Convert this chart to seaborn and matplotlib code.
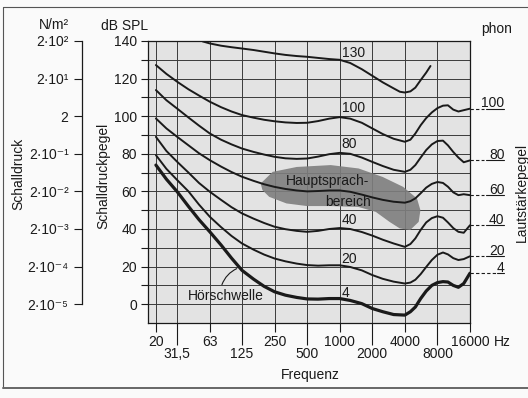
import matplotlib
matplotlib.use("Agg")
import matplotlib.pyplot as plt
import matplotlib.transforms as mtransforms
from matplotlib.lines import Line2D
import seaborn as sns

# Kurven gleicher Lautstaerke (Hz / dB SPL)
freq = [20, 25, 31.5, 40, 50, 63, 80, 100, 125, 160, 200, 250, 315, 400, 500, 630, 800,
        1000, 1250, 1600, 2000, 2500, 3150, 4000, 4500, 5000, 5600, 6300, 7100, 8000,
        9000, 10000, 11200, 12500, 14000, 16000]
phon_100 = [127.2, 122.5, 118.3, 114.3, 111, 107.7, 104.8, 102.5, 100.6, 99.2, 98.1, 97.3, 96.7,
            96.4, 96.5, 97.4, 98.7, 99.5, 98.7, 96.5, 93.5, 90.5, 88, 86.4, 87.5, 90.8, 95.2,
            99, 102, 104.3, 105.6, 105.8, 103.5, 102.5, 103.2, 104]
phon_80 = [113.9, 108.5, 104, 99.3, 95, 90.8, 87.5, 85, 82.8, 81, 79.6, 78.4, 77.6, 77.3, 77.5,
           78.5, 79.8, 80.5, 80, 78, 75.7, 73.5, 71.5, 70.4, 71.5, 74, 78, 82, 85, 86.8, 87,
           84.5, 81, 78, 75.5, 76.5]
phon_60 = [98.8, 93.5, 89, 84.5, 80.3, 76.6, 73.2, 70.3, 67.8, 65.6, 63.8, 62.4, 61.3, 60.5, 60,
           60.2, 60.5, 60.5, 59.8, 58.3, 56.8, 55.5, 54.5, 54, 54.8, 56.3, 59, 62, 64, 65, 64.5,
           62.5, 59.5, 58, 58.5, 58]
phon_40 = [89, 81.5, 75.7, 70, 64.5, 59.8, 55.5, 51.6, 48.3, 45.5, 43.2, 41.2, 39.9, 39, 38.5,
           39, 40, 40.5, 40, 38.4, 36.5, 34.3, 32.3, 30.5, 32, 35, 39.5, 43.5, 45.8, 46.8, 46,
           43.5, 40.5, 38.5, 38, 42]
phon_20 = [79.3, 72, 66, 60, 53, 46.5, 41, 36.3, 32.3, 29, 26.4, 24.3, 22.8, 21.6, 20.8, 20.5,
           20.7, 20.7, 19.8, 18, 15.5, 13.5, 12, 11, 11.5, 13, 16, 19.8, 23.5, 26.3, 27.5, 26.5,
           24.5, 23.5, 24, 25.5]
phon_4 = [74, 66.5, 59.8, 52, 45, 38.5, 31.5, 24.5, 18, 13.3, 9.5, 6.6, 4.8, 3.6, 2.8, 2.7, 3,
          3, 2, 0.3, -2.3, -4, -5.5, -5.8, -4, -1.5, 3, 7, 10, 11.5, 12, 11.8, 10, 9, 11, 16.5]

freq_130 = [54, 63, 80, 100, 125, 160, 200, 250, 315, 400, 500, 630, 800, 1000, 1250, 1600,
            2000, 2500, 3150, 3600, 4000, 4500, 5000, 5600, 6300, 6900]
phon_130 = [139.8, 138.7, 137.5, 136.7, 136, 135.2, 134.3, 133.4, 132.6, 132, 131.6, 131, 130.4,
            130, 128.3, 125, 121.5, 118, 114.8, 113, 112.6, 113.2, 115.2, 119.2, 123.2, 126.7]

# Hauptsprachbereich (Umriss)
blob_freq = [186, 240, 401, 826, 1494, 2490, 3861, 5182, 5570, 5367, 4470, 3592, 2885, 2155,
             1494, 826, 499, 322, 223, 193]
blob_level = [64.2, 70.4, 73.0, 74.0, 72.2, 67.7, 62.4, 56.2, 50.0, 43.8, 39.4, 40.3, 43.8, 49.1,
              51.7, 52.2, 52.2, 53.6, 57.1, 60.7]

upper_ticks = [20, 63, 250, 1000, 4000, 16000]
upper_labels = ['20', '63', '250', '1000', '4000', '16000']
lower_ticks = [31.5, 125, 500, 2000, 8000]
lower_labels = ['31,5', '125', '500', '2000', '8000']

spl_ticks = [140, 120, 100, 80, 60, 40, 20, 0]
pressure_labels = ['2·10²', '2·10¹', '2', '2·10⁻¹', '2·10⁻²', '2·10⁻³', '2·10⁻⁴', '2·10⁻⁵']

curve_labels = ['130', '100', '80', '40', '20', '4']
curve_label_levels = [133.7, 104.1, 85.1, 44.7, 24.3, 6.0]

right_labels = ['100', '80', '60', '40', '20', '4']
right_levels = [104, 76.5, 58, 42, 25.5, 16.5]

W, H = 528, 398
ink = '#1a1a1a'

sns.set_theme(style="ticks")
plt.rcParams['font.family'] = ['Liberation Sans', 'DejaVu Sans']
plt.rcParams['font.size'] = 10
plt.rcParams['text.color'] = ink

fig = plt.figure(figsize=(W / 100, H / 100), dpi=100)
fig.patch.set_facecolor('#fafafa')
ax = fig.add_axes([148 / W, 1 - 323 / H, 322 / W, 282 / H])
ax.set_facecolor('#e3e3e3')
ax.set_xscale('log')
ax.set_xlim(16.9, 16000)
ax.set_ylim(-10, 140)

ax.set_xticks(upper_ticks, upper_labels)
ax.set_xticks(lower_ticks, lower_labels, minor=True)
ax.set_yticks(spl_ticks)
ax.set_yticks(list(range(10, 140, 20)), minor=True)
ax.tick_params(axis='x', which='major', length=6.5, width=0.8, pad=2, color=ink, labelsize=10, labelcolor=ink)
ax.tick_params(axis='x', which='minor', length=16, width=0.8, pad=1.5, color=ink, labelsize=10, labelcolor=ink)
ax.tick_params(axis='y', which='both', length=5, width=0.8, pad=3, color=ink, labelsize=10, labelcolor=ink)
ax.grid(True, which='both', color='#3a3a3a', lw=0.7)
ax.set_axisbelow(True)
for s in ax.spines.values():
    s.set_color(ink)
    s.set_linewidth(0.9)

# Sprachbereich
ax.fill(blob_freq, blob_level, color='#7e7e7e', alpha=0.9, lw=0, zorder=1.5)
ax.text(774, 65.4, 'Hauptsprach-', ha='center', va='center', zorder=4)
ax.text(1200, 54.4, 'bereich', ha='center', va='center', zorder=4)

# Kurven
for lv in [phon_100, phon_80, phon_60, phon_40, phon_20]:
    sns.lineplot(x=freq, y=lv, ax=ax, color=ink, lw=1.4, zorder=3)
sns.lineplot(x=freq, y=phon_4, ax=ax, color=ink, lw=2.3, zorder=3)
sns.lineplot(x=freq_130, y=phon_130, ax=ax, color=ink, lw=1.4, zorder=3)

for lbl, lv in zip(curve_labels, curve_label_levels):
    ax.text(1040, lv, lbl, ha='left', va='center', zorder=4)

ax.text(39.4, 4.3, 'Hörschwelle', ha='left', va='center', zorder=4)
ax.annotate('', xy=(118, 19.5), xytext=(80, 9),
            arrowprops=dict(arrowstyle='-', lw=0.8, color=ink, connectionstyle='arc3,rad=-0.25'))

# rechte Beschriftung (phon)
trans = mtransforms.blended_transform_factory(ax.transAxes, ax.transData)
for lbl, lv in zip(right_labels, right_levels):
    dash_end = 1.08 if lbl == '4' else 1.045
    ax.plot([1.0, dash_end], [lv, lv], ls=(0, (3, 2)), color=ink, lw=0.8, transform=trans, clip_on=False)
    ax.plot([dash_end + 0.004, 1.107], [lv, lv], color=ink, lw=0.8, transform=trans, clip_on=False)
    ax.text(1.107, lv + 0.65, lbl, ha='right', va='baseline', transform=trans)

# Schalldruck-Skala links
sec = ax.secondary_yaxis((81.7 - 148) / 322)
sec.set_yticks(spl_ticks, pressure_labels)
sec.tick_params(length=5.5, width=0.8, pad=4, color=ink, labelsize=10, labelcolor=ink)
sec.spines['left'].set_bounds(0, 140)
sec.spines['left'].set_color(ink)
sec.spines['left'].set_linewidth(0.9)

# Texte
fig.text(54 / W, 1 - 25 / H, 'N/m²', ha='center', va='center')
fig.text(125 / W, 1 - 26 / H, 'dB SPL', ha='center', va='center')
fig.text(497 / W, 1 - 29 / H, 'phon', ha='center', va='center')
fig.text(502 / W, 1 - 342.5 / H, 'Hz', ha='center', va='center')
fig.text(310 / W, 1 - 375 / H, 'Frequenz', ha='center', va='center')
fig.text(18 / W, 1 - 174 / H, 'Schalldruck', rotation=90, ha='center', va='center')
fig.text(103 / W, 1 - 176 / H, 'Schalldruckpegel', rotation=90, ha='center', va='center')
fig.text(522 / W, 1 - 192 / H, 'Lautstärkepegel', rotation=90, ha='center', va='center')

# Rahmen
fig.add_artist(Line2D([3 / W, 3 / W], [1 - 7 / H, 1 - 388 / H], transform=fig.transFigure, color='#555555', lw=0.8))
fig.add_artist(Line2D([3 / W, 1.0], [1 - 7 / H, 1 - 7 / H], transform=fig.transFigure, color='#555555', lw=0.8))
fig.add_artist(Line2D([3 / W, 1.0], [1 - 388 / H, 1 - 388 / H], transform=fig.transFigure, color='#666666', lw=1.4))

fig.savefig('out.png', dpi=100, facecolor=fig.get_facecolor())
